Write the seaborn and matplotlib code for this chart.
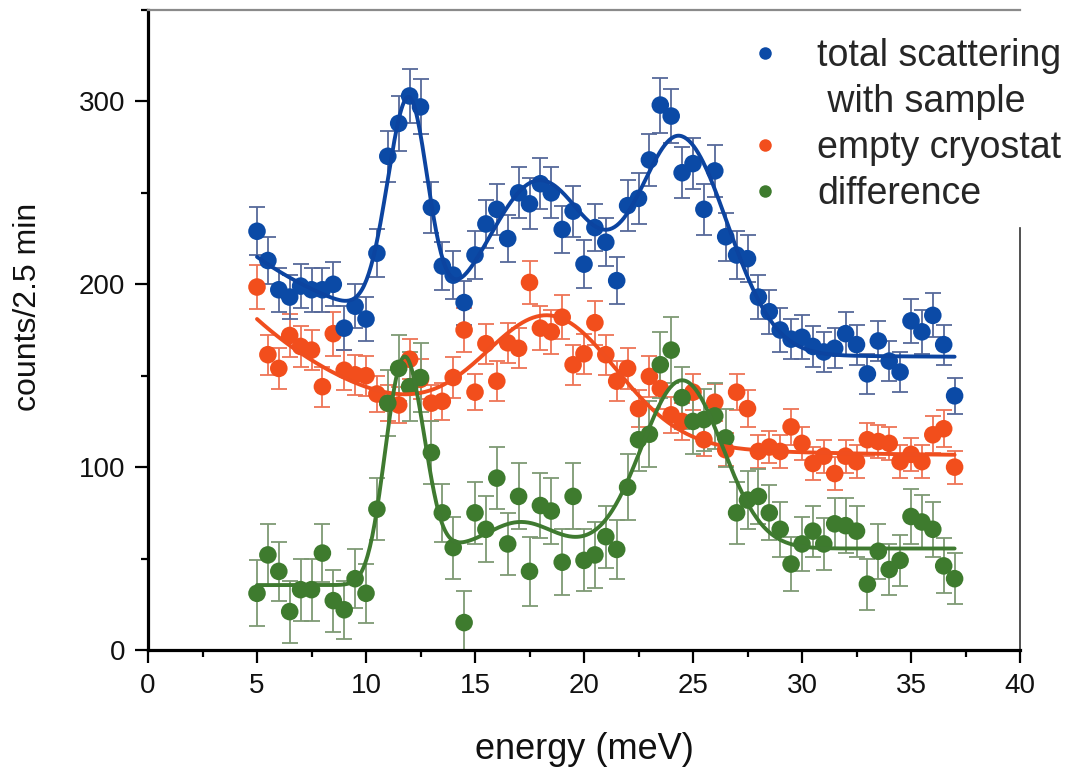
import numpy as np
import pandas as pd
import matplotlib
matplotlib.use("Agg")
import matplotlib.pyplot as plt
from matplotlib.lines import Line2D
from matplotlib.ticker import MultipleLocator
import seaborn as sns

# ---------------- data ----------------
energy = np.arange(5.0, 37.25, 0.5)   # meV, 0.5 meV steps from 5 to 37

total_counts = [229, 213, 197, 193, 199, 197, 197, 200, 176, 188,
                181, 217, 270, 288, 303, 297, 242, 210, 205, 190,
                216, 233, 241, 225, 250, 244, 255, 250, 230, 240,
                211, 231, 223, 202, 243, 247, 268, 298, 292, 261,
                266, 241, 262, 226, 216, 214, 193, 185, 175, 170,
                171, 166, 163, 165, 173, 167, 151, 169, 158, 152,
                180, 174, 183, 167, 139]
total_err = [13, 13, 12, 12, 12, 12, 12, 12, 12, 12,
             12, 13, 14, 15, 15, 15, 14, 13, 13, 12,
             13, 13, 14, 13, 14, 14, 14, 14, 13, 14,
             13, 13, 13, 13, 14, 14, 14, 15, 15, 14,
             14, 14, 14, 13, 13, 13, 12, 12, 12, 11,
             12, 11, 11, 11, 12, 11, 11, 11, 11, 11,
             12, 12, 12, 11, 10]

empty_counts = [198.5, 161.5, 154, 172, 166, 164, 144, 173, 153, 150.5,
                150, 140, 135, 134, 159, 148, 135, 136, 149, 175,
                141, 167.5, 147, 168, 165, 201, 176, 174, 182, 156,
                162, 179, 161.5, 147, 154, 132, 149.6, 143, 128.6, 125,
                141, 115, 135.5, 109.5, 141, 132, 108.6, 111, 108.6, 122,
                113, 102, 106, 96.5, 106, 103, 115, 114, 113, 103,
                107, 103, 117.7, 121, 100]
empty_err = [12, 11, 11, 12, 11, 11, 11, 12, 11, 11,
             11, 10, 10, 10, 11, 11, 10, 10, 11, 12,
             10, 11, 11, 11, 11, 12, 12, 12, 12, 11,
             11, 12, 11, 11, 11, 10, 11, 11, 10, 10,
             10, 9, 10, 9, 10, 10, 9, 9, 9, 10,
             9, 9, 9, 9, 9, 9, 9, 9, 9, 9,
             9, 9, 10, 10, 9]

diff_counts = [31, 52, 43, 21, 33, 33, 53, 27, 22, 39,
               31, 77, 135, 154, 144, 149, 108, 75, 56, 15,
               75, 66, 94, 58, 84, 43, 79, 76, 48, 84,
               49, 52, 62, 55, 89, 115, 118, 156, 164, 138,
               125, 126, 128, 116, 75, 82, 84, 75, 66, 47,
               58, 65, 58, 69, 68, 65, 36, 54, 44, 49,
               73, 70, 66, 46, 39]
diff_err = [18, 17, 16, 17, 17, 17, 16, 17, 16, 16,
            16, 17, 18, 18, 19, 19, 17, 16, 17, 17,
            17, 18, 17, 17, 18, 19, 18, 18, 18, 18,
            17, 18, 17, 16, 18, 17, 18, 18, 18, 17,
            18, 17, 18, 16, 17, 16, 15, 15, 15, 15,
            15, 14, 14, 14, 15, 14, 14, 15, 14, 14,
            15, 15, 15, 15, 14]

series_names = ["empty cryostat", "total scattering", "difference"]
legend_labels = ["total scattering", " with sample", "empty cryostat", "difference"]

# fitted-curve model parameters: background = base + decay*exp(-(E-5)/length)
#   + step/(1+exp(-(E-step_pos)/step_width)); plus (split) Gaussian peaks
total_bg = [160.0, 55.0, 6.5, 0.0, 12.5, 0.3]
total_pk_center = [11.95, 18.0, 24.45]
total_pk_amp = [120.0, 89.0, 116.0]
total_pk_wl = [0.97, 2.39, 1.96]
total_pk_wr = [0.87, 2.39, 2.15]

empty_bg = [106.0, 75.0, 7.0, 0.0, 12.5, 0.3]
empty_pk_center = [18.5]
empty_pk_amp = [66.0]
empty_pk_wl = [3.0]
empty_pk_wr = [3.0]

diff_bg = [35.5, 0.0, 1.0, 20.0, 12.5, 0.3]
diff_pk_center = [11.35, 12.15, 17.1, 24.5]
diff_pk_amp = [72.0, 72.0, 14.5, 92.0]
diff_pk_wl = [0.72, 0.72, 1.5, 1.85]
diff_pk_wr = [0.72, 0.72, 1.5, 1.85]

fit_range = [5.0, 37.0]

# ---------------- styling ----------------
point_colors = {"total scattering": "#0b4aa6", "empty cryostat": "#f24e1c", "difference": "#3e7b2e"}
line_colors = {"total scattering": "#0c44a0", "empty cryostat": "#f04e1e", "difference": "#3f7a30"}
err_colors = {"total scattering": "#56699a", "empty cryostat": "#ee7456", "difference": "#7e9a74"}


def model(e, bg, centers, amps, wl, wr):
    base, decay, length, step, spos, swid = bg
    y = base + decay * np.exp(-(e - fit_range[0]) / length) + step / (1.0 + np.exp(-(e - spos) / swid))
    for c, a, sl, sr in zip(centers, amps, wl, wr):
        s = np.where(e < c, sl, sr)
        y = y + a * np.exp(-(e - c) ** 2 / (2 * s ** 2))
    return y


sns.set_style("ticks")
plt.rcParams["font.family"] = ["Liberation Sans", "DejaVu Sans"]

fig = plt.figure(figsize=(10.85, 7.7), dpi=100)
ax = fig.add_axes([148 / 1085, 120 / 770, 872 / 1085, 640 / 770])

pts = pd.DataFrame({
    "energy": np.concatenate([energy, energy, energy]),
    "counts": np.concatenate([empty_counts, total_counts, diff_counts]),
    "err": np.concatenate([empty_err, total_err, diff_err]),
    "series": np.repeat(series_names, len(energy)),
})

e_fit = np.linspace(fit_range[0], fit_range[1], 600)
fits = pd.DataFrame({
    "energy": np.concatenate([e_fit, e_fit, e_fit]),
    "fit": np.concatenate([
        model(e_fit, empty_bg, empty_pk_center, empty_pk_amp, empty_pk_wl, empty_pk_wr),
        model(e_fit, total_bg, total_pk_center, total_pk_amp, total_pk_wl, total_pk_wr),
        model(e_fit, diff_bg, diff_pk_center, diff_pk_amp, diff_pk_wl, diff_pk_wr),
    ]),
    "series": np.repeat(series_names, len(e_fit)),
})

for name in series_names:
    sub = pts[pts["series"] == name]
    ax.errorbar(sub["energy"], sub["counts"], yerr=sub["err"], fmt="none",
                ecolor=err_colors[name], elinewidth=1.3, capsize=6, capthick=1.3, zorder=2)

sns.scatterplot(data=pts, x="energy", y="counts", hue="series", palette=point_colors,
                s=160, linewidth=0, legend=False, ax=ax, zorder=3)
sns.lineplot(data=fits, x="energy", y="fit", hue="series", palette=line_colors,
             linewidth=2.8, legend=False, ax=ax, zorder=4, sort=False)

ax.set_xlim(0, 40)
ax.set_ylim(0, 350)
ax.xaxis.set_major_locator(MultipleLocator(5))
ax.xaxis.set_minor_locator(MultipleLocator(2.5))
ax.yaxis.set_major_locator(MultipleLocator(100))
ax.yaxis.set_minor_locator(MultipleLocator(50))
ax.tick_params(axis="both", which="major", direction="out", length=9.5, width=1.6,
               labelsize=20, pad=7, color="black", labelcolor="#111111")
ax.tick_params(axis="both", which="minor", direction="out", length=5, width=1.6, color="black")
ax.tick_params(top=False, right=False, which="both")

for side in ["bottom", "left"]:
    ax.spines[side].set_linewidth(2.3)
    ax.spines[side].set_color("black")
ax.spines["top"].set_linewidth(1.6)
ax.spines["top"].set_color("#8a8a8a")
ax.spines["right"].set_linewidth(1.2)
ax.spines["right"].set_color("#333333")
ax.spines["right"].set_bounds(0, 231)

ax.set_xlabel("energy (meV)", fontsize=26, color="#111111")
ax.set_ylabel("counts/2.5 min", fontsize=23, color="#111111")
ax.xaxis.set_label_coords(0.5, -0.128)
ax.yaxis.set_label_coords(-0.12, 0.536)

handles = [
    Line2D([], [], ls="none", marker="o", markersize=9, markeredgewidth=0, color=point_colors["total scattering"]),
    Line2D([], [], ls="none", marker=None, color="none"),
    Line2D([], [], ls="none", marker="o", markersize=9, markeredgewidth=0, color=point_colors["empty cryostat"]),
    Line2D([], [], ls="none", marker="o", markersize=9, markeredgewidth=0, color=point_colors["difference"]),
]
ax.legend(handles, legend_labels, loc="upper left", bbox_to_anchor=(746 / 1085, 1 - 38 / 770),
          bbox_transform=fig.transFigure, frameon=False, fontsize=27, handlelength=1.0,
          handletextpad=0.9, labelspacing=0.27, borderpad=0, borderaxespad=0)

fig.savefig("out.png", dpi=100)
